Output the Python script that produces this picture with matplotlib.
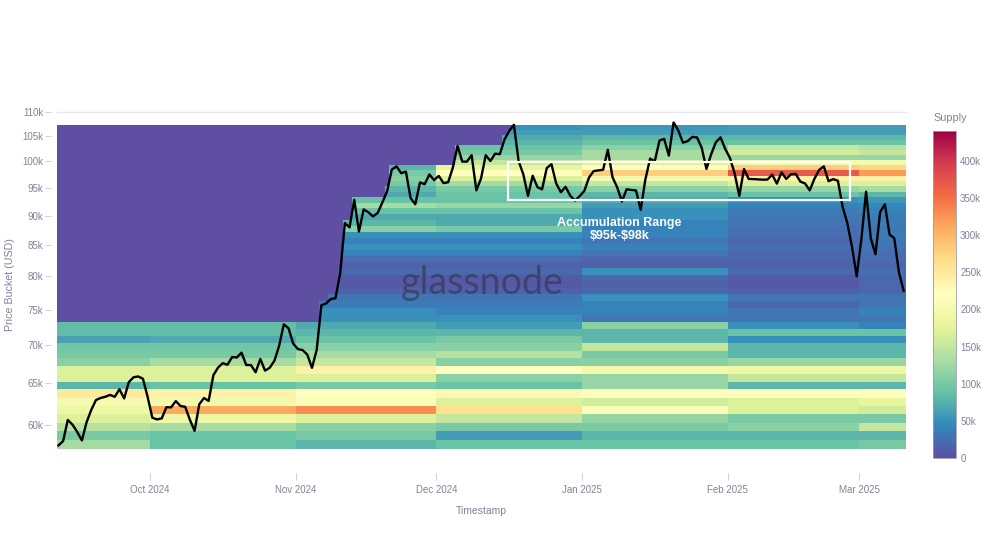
import datetime as dt
import numpy as np
import matplotlib
matplotlib.use("Agg")
import matplotlib.pyplot as plt
import matplotlib.dates as mdates
from matplotlib.patches import Rectangle
from matplotlib.ticker import FixedLocator, NullLocator

# ---------------- data ----------------
# BTC price (USD), one value per day starting 2024-09-11
price_sep = [57650, 58130, 60570, 60010, 59180, 58210, 60300, 61760, 62950, 63200,
             63350, 63580, 63340, 64280, 63140, 65180, 65790, 65890, 65600, 63330]
price_oct = [60830, 60630, 60750, 62080, 62060, 62820, 62220, 62130, 60580, 59300,
             62440, 63190, 62850, 66050, 67040, 67610, 67400, 68420, 68360, 69000,
             67370, 67360, 66430, 68160, 66640, 67010, 67930, 69910, 72900, 72340, 70220]
price_nov = [69480, 69350, 68740, 67000, 69360, 75640, 75900, 76550, 76680, 80470,
             88700, 87960, 92800, 87250, 91070, 90580, 89850, 90460, 92340, 94340,
             98400, 99000, 97700, 98010, 93100, 91990, 95960, 95650, 97460, 96400]
price_dec = [97190, 95840, 96000, 98770, 103000, 99920, 99920, 101170, 94500, 96700,
             101170, 100040, 101460, 101370, 104300, 106030, 107300, 100040, 97490, 93500,
             97220, 95100, 94690, 98680, 99430, 95790, 94160, 95160, 93530, 92640, 93430]
price_jan = [94420, 96890, 98110, 98240, 98350, 102240, 96950, 95040, 92480, 94700,
             94570, 94490, 91000, 96530, 100500, 99990, 104080, 104410, 101090, 107800,
             106150, 103650, 103960, 104820, 104710, 102620, 98500, 101330, 103730, 104730, 102410]
price_feb = [100640, 97690, 93500, 98500, 96620, 96590, 96530, 96480, 96500, 97430,
             95750, 97870, 96620, 97510, 97570, 96120, 95770, 94500, 96640, 98330,
             99000, 96200, 96580, 96270, 91550, 88700, 84700, 80000]
price_mar = [86030, 94270, 86120, 83500, 90620, 92000, 86740, 86150, 80600, 77800]

# Supply (k BTC) per 1k price bucket (57.25k .. 107.25k, low -> high), per month
supply_sep = [130, 100, 140, 170, 190, 200, 250, 80, 170, 170, 110, 100, 95, 65, 85, 85,
              0, 0, 0, 0, 0, 0, 0, 0, 0, 0, 0, 0, 0, 0, 0, 0, 0, 0, 0, 0, 0,
              0, 0, 0, 0, 0, 0, 0, 0, 0, 0, 0, 0, 0]
supply_oct = [90, 90, 130, 190, 310, 200, 240, 90, 170, 170, 130, 100, 95, 70, 85, 85,
              0, 0, 0, 0, 0, 0, 0, 0, 0, 0, 0, 0, 0, 0, 0, 0, 0, 0, 0, 0, 0,
              0, 0, 0, 0, 0, 0, 0, 0, 0, 0, 0, 0, 0]
supply_nov = [80, 100, 110, 170, 330, 210, 220, 100, 170, 240, 150, 130, 110, 90, 80, 70,
              50, 50, 35, 30, 15, 10, 10, 20, 15, 25, 40, 50, 40, 50, 110, 80, 70, 90, 130, 90,
              70, 80, 100, 110, 100, 80, 0, 0, 0, 0, 0, 0, 0, 0]
supply_dec = [90, 60, 100, 150, 260, 170, 230, 90, 110, 220, 110, 140, 110, 100, 80, 60,
              50, 40, 35, 30, 15, 10, 10, 20, 15, 25, 40, 50, 40, 50, 100, 70, 70, 90, 120, 90,
              90, 100, 130, 170, 220, 180, 150, 120, 100, 90, 80, 70, 60, 50]
supply_jan = [90, 80, 100, 120, 210, 160, 220, 120, 120, 200, 110, 100, 150, 80, 80, 110,
              30, 40, 40, 50, 20, 15, 20, 50, 15, 20, 30, 40, 30, 40, 40, 40, 50, 50, 60, 70,
              80, 110, 150, 200, 280, 220, 170, 130, 130, 110, 90, 80, 60, 55]
supply_feb = [90, 80, 110, 100, 170, 170, 220, 80, 150, 190, 120, 80, 80, 50, 90, 50,
              30, 30, 20, 30, 15, 10, 10, 20, 15, 20, 20, 25, 20, 25, 25, 30, 30, 35, 40, 50,
              90, 120, 170, 240, 370, 280, 200, 120, 160, 150, 90, 80, 60, 60]
supply_mar = [100, 80, 150, 100, 160, 180, 220, 80, 150, 190, 120, 80, 80, 50, 90, 40,
              30, 40, 30, 30, 20, 20, 20, 25, 20, 25, 25, 30, 30, 35, 30, 35, 35, 40, 45, 55,
              80, 130, 170, 240, 320, 270, 200, 120, 150, 140, 90, 80, 60, 60]

initial_top = 73250          # top of the supply already present at chart start
bucket_first, bucket_size, n_buckets = 57250, 1000, 50
y_ticks = [60000, 65000, 70000, 75000, 80000, 85000, 90000, 95000, 100000, 105000, 110000]
cbar_ticks = [0, 50000, 100000, 150000, 200000, 250000, 300000, 350000, 400000]
x_tick_dates = [dt.date(2024, 10, 1), dt.date(2024, 11, 1), dt.date(2024, 12, 1),
                dt.date(2025, 1, 1), dt.date(2025, 2, 1), dt.date(2025, 3, 1)]
x_tick_labels = ["Oct 2024", "Nov 2024", "Dec 2024", "Jan 2025", "Feb 2025", "Mar 2025"]
range_low, range_high = 92800, 99900
range_start, range_end = dt.datetime(2024, 12, 16, 5), dt.datetime(2025, 2, 27, 4)

# ---------------- build ----------------
price = np.array(price_sep + price_oct + price_nov + price_dec + price_jan + price_feb + price_mar, float)
periods = [supply_sep, supply_oct, supply_nov, supply_dec, supply_jan, supply_feb, supply_mar]
for p in periods:
    assert len(p) == n_buckets
month_period = {9: 0, 10: 1, 11: 2, 12: 3, 1: 4, 2: 5, 3: 6}
start = dt.date(2024, 9, 11)
days = [start + dt.timedelta(d) for d in range(len(price))]
edges = bucket_first + bucket_size * np.arange(n_buckets + 1)
lows = edges[:-1]
runmax = np.maximum.accumulate(price)
Z = np.zeros((n_buckets, len(days)))
for d, day in enumerate(days):
    col = np.array(periods[month_period[day.month]], float) * 1000
    filled = (lows < initial_top) | (lows <= runmax[d])
    Z[:, d] = np.where(filled, col, 0)

xnum = mdates.date2num(days)
xedges = np.append(xnum, xnum[-1] + 1)

# ---------------- draw ----------------
GRAY = "#7f8399"
plt.rcParams["font.family"] = ["Liberation Sans", "DejaVu Sans"]
fig = plt.figure(figsize=(9.84, 5.54), dpi=100)
ax = fig.add_axes([57 / 984, 1 - 449 / 554, (906 - 57) / 984, (449 - 112) / 554])
ax.set_yscale("log")
mesh = ax.pcolormesh(xedges, edges, Z, cmap="Spectral_r", vmin=0, vmax=440000,
                     shading="flat", rasterized=True)
ax.plot(xnum + 0.5, price, color="black", lw=1.7, zorder=4)

ax.add_patch(Rectangle((mdates.date2num(range_start), range_low),
                       mdates.date2num(range_end) - mdates.date2num(range_start),
                       range_high - range_low, fill=False, edgecolor="white", lw=1.6, zorder=5))
ax.text(mdates.date2num(dt.datetime(2025, 1, 9)), 87600, "Accumulation Range\n\\$95k-\\$98k",
        ha="center", va="center", color="white", fontweight="bold", fontsize=9,
        linespacing=1.15, zorder=6)
ax.text(mdates.date2num(dt.datetime(2024, 12, 10, 16)), 77300, "glassnode",
        ha="center", va="baseline", color="#2a2a36", alpha=0.5, fontsize=27,
        family=["Lato", "DejaVu Sans"], zorder=3)

ax.set_xlim(xnum[0] + 0.2, xnum[-1] + 1)
ax.set_ylim(57250, 110000)
ax.yaxis.set_major_locator(FixedLocator(y_ticks))
ax.yaxis.set_minor_locator(NullLocator())
ax.set_yticklabels([f"{v // 1000}k" for v in y_ticks])
ax.set_xticks(mdates.date2num(x_tick_dates))
ax.set_xticklabels(x_tick_labels)
for s in ax.spines.values():
    s.set_visible(False)
ax.spines["left"].set_position(("outward", 4))
ax.spines["bottom"].set_position(("outward", 17))
ax.tick_params(axis="y", colors="#d0d2da", labelcolor=GRAY, labelsize=7, length=4, width=0.8, pad=2)
ax.tick_params(axis="x", colors="#d0d2da", labelcolor=GRAY, labelsize=7, length=5, width=0.8, pad=4)
ax.axhline(110000, color="#e6e7ee", lw=1.0, clip_on=False, zorder=1)
ax.set_xlabel("Timestamp", color=GRAY, fontsize=7.5, labelpad=8)
fig.text(10 / 984, 1 - 285 / 554, "Price Bucket (USD)", rotation=90, color=GRAY,
         fontsize=7.7, ha="center", va="center")

cax = fig.add_axes([933 / 984, 1 - 458 / 554, 23 / 984, (458 - 131) / 554])
cb = fig.colorbar(mesh, cax=cax, ticks=cbar_ticks)
cb.ax.set_yticklabels(["0"] + [f"{v // 1000}k" for v in cbar_ticks[1:]])
cb.ax.tick_params(length=0, labelcolor=GRAY, labelsize=7, pad=3)
cb.outline.set_edgecolor("#9a9cb0")
cb.outline.set_linewidth(0.6)
fig.text(933 / 984, 1 - 118 / 554, "Supply", color=GRAY, fontsize=7.8, ha="left", va="center")

fig.savefig("out.png", dpi=100, facecolor="white")
